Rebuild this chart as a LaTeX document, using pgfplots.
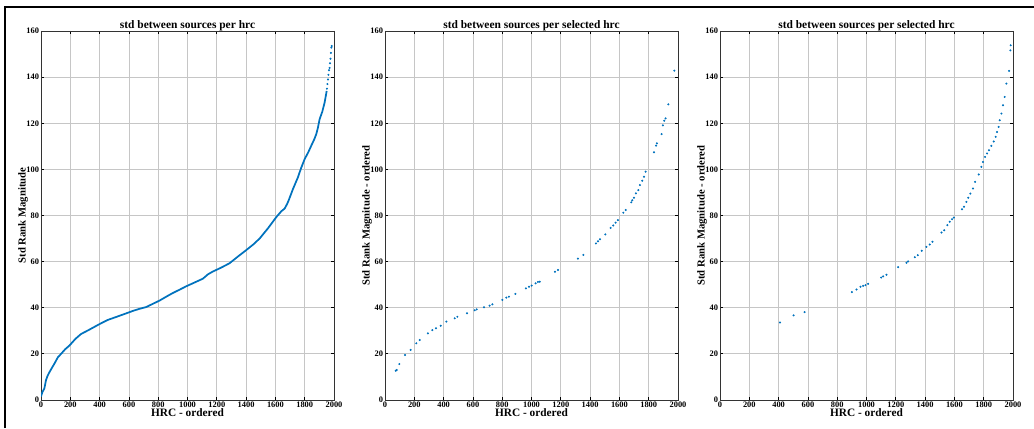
\documentclass[border=0pt]{standalone}
\usepackage{pgfplots}
\pgfplotsset{compat=1.18}
\usepackage{fontspec}
\setmainfont{Liberation Serif}
\definecolor{mblue}{RGB}{0,114,189}
\pgfplotsset{
  mystyle/.style={
    scale only axis, width=219.75pt, height=276.75pt,
    xmin=0, xmax=2000, ymin=0, ymax=160,
    xtick={0,200,...,2000}, ytick={0,20,...,160},
    grid=major, major grid style={gray!45, line width=0.6pt},
    tick align=inside, major tick length=2.5pt,
    tick style={black, line width=0.6pt},
    axis line style={black!80, line width=0.6pt},
    /pgf/number format/assume math mode=true,
    /pgf/number format/1000 sep={},
    ticklabel style={font=\bfseries\fontsize{6.3}{7}\selectfont},
    xticklabel style={yshift=2pt},
    yticklabel style={xshift=2pt},
    xlabel style={font=\bfseries\fontsize{8.5}{9}\selectfont, yshift=6pt},
    ylabel style={font=\bfseries\fontsize{8}{9}\selectfont, yshift=-8pt},
    title style={font=\bfseries\fontsize{8.6}{9}\selectfont, yshift=-9.5pt},
    xlabel={HRC - ordered},
  }
}
\begin{document}
\begin{tikzpicture}
\path[use as bounding box] (0,0) rectangle (775.5pt,321pt);
\draw[line width=1pt] (3.75pt,0) -- (3.75pt,315.75pt) -- (775.5pt,315.75pt);

\begin{axis}[mystyle, at={(30.75pt,21pt)}, anchor=south west,
  title={std between sources per hrc}, ylabel={Std Rank Magnitude}]
\addplot[mblue, line width=1.3pt, no marks] coordinates {
(0,1.5) (10,3.5) (23,5) (34,8.6) (45,10.5) (57,12) (75,14) (91,15.7) (115,18.5) (137,20) (165,22) (194,23.6) (235,26.5) (273,28.6)
(330,30.5) (399,32.9) (455,34.7) (513,36) (570,37.3) (626,38.6) (670,39.5) (718,40.3) (760,41.6) (809,43.1) (855,44.8) (900,46.4) (945,47.8) (991,49.3)
(1050,51) (1105,52.6) (1140,54.5) (1173,55.7) (1230,57.4) (1287,59.3) (1340,62) (1401,65) (1450,67.5) (1492,70) (1550,74.5) (1606,79.3) (1640,81.8) (1663,83)
(1680,85) (1692,86.8) (1720,91.5) (1754,96.6) (1775,100.5) (1800,104.5) (1825,107.5) (1845,110.3) (1865,113) (1879,115.3) (1890,118) (1902,121.8)
(1920,125) (1936,129) (1950,134)
};
\addplot[mblue, only marks, mark=*, mark size=0.55pt] coordinates {
(1952,135) (1955,137) (1959,139) (1962,141) (1966,143) (1970,144) (1973,146) (1976,148) (1979,150.5) (1982,152.8) (1984,153.5)
};
\end{axis}

\begin{axis}[mystyle, at={(288.75pt,21pt)}, anchor=south west,
  title={std between sources per selected hrc}, ylabel={Std Rank Magnitude - ordered}]
\addplot[mblue, only marks, mark=*, mark size=0.55pt] coordinates {
(73,12.7) (80,13.0) (98,15.6) (137,19.5) (175,21.7) (214,24.6) (237,26) (293,28.9)
(323,30.3) (348,31.1) (380,32.2) (419,34) (476,35.4) (494,36.1) (560,37.6) (612,38.9)
(626,39.3) (676,40.2) (714,40.9) (733,41.5) (801,43.4) (828,44.4) (846,44.8) (890,46)
(962,48.4) (983,49.1) (1001,49.6) (1028,50.6) (1044,51.2) (1056,51.3) (1160,55.6)
(1181,56.4) (1317,61.3) (1354,62.9) (1440,67.9) (1454,68.8) (1467,69.7) (1504,71.8)
(1540,74.6) (1558,75.7) (1574,76.9) (1590,78) (1627,81.2) (1643,82.4) (1681,85.7)
(1688,86.6) (1699,87.7) (1713,89.6) (1729,91) (1740,93.2) (1756,95.1) (1768,96.8)
(1779,99) (1836,107.4) (1850,110.3) (1856,111.3) (1888,115.3) (1897,119.1)
(1906,121.1) (1915,122.1) (1934,128.2) (1975,142.8)
};
\end{axis}

\begin{axis}[mystyle, at={(540pt,21pt)}, anchor=south west,
  title={std between sources per selected hrc}, ylabel={Std Rank Magnitude - ordered}]
\addplot[mblue, only marks, mark=*, mark size=0.55pt] coordinates {
(409,33.6) (502,36.7) (577,38.1) (900,46.8) (932,47.9) (959,49.1) (977,49.5) (993,49.8)
(1011,50.4) (1100,53.1) (1114,53.6) (1136,54.3) (1216,57.6) (1273,59.5) (1284,60.1)
(1330,61.9) (1350,62.8) (1377,64.7) (1409,66.4) (1432,67.4) (1450,68.6) (1512,72.6)
(1530,73.6) (1552,75.8) (1568,77.3) (1584,78.4) (1596,79.1) (1652,82.7) (1666,83.8)
(1682,85.9) (1695,87.7) (1709,89.5) (1727,91.7) (1741,94.6) (1766,97.8) (1784,101.1)
(1795,103.2) (1809,105.4) (1823,106.9) (1836,108.3) (1852,110.2) (1868,112.1)
(1882,114.1) (1891,116.2) (1902,118.4) (1909,121.3) (1921,124.2) (1932,127.8)
(1943,131.4) (1955,137.2) (1973,142.7) (1982,151.6) (1984,153.8)
};
\end{axis}
\end{tikzpicture}
\end{document}
